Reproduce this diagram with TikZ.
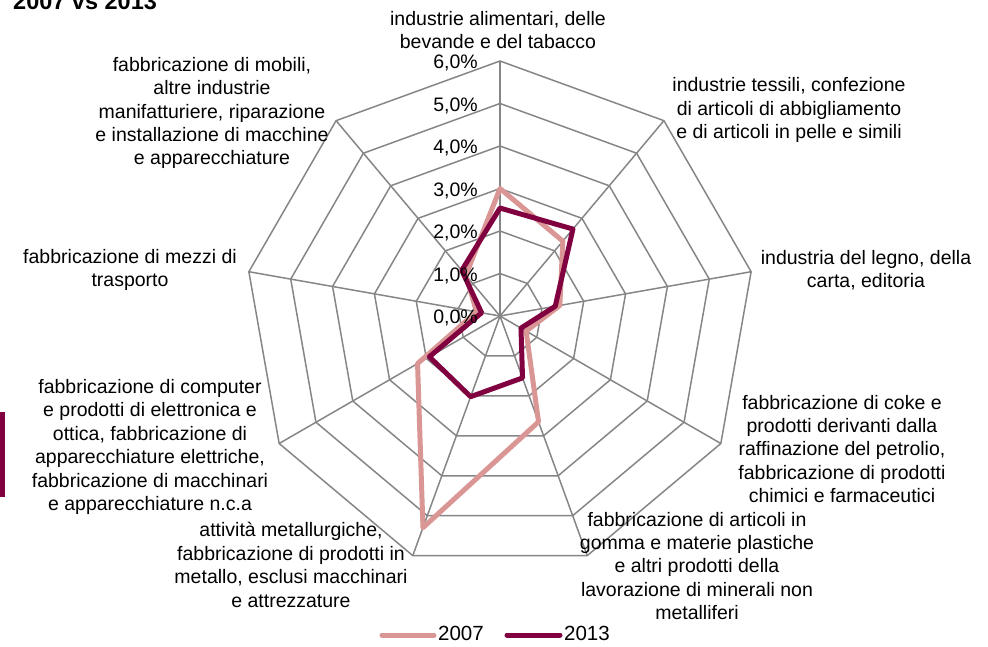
\documentclass[tikz,border=0pt]{standalone}
\usepackage{fontspec}
\setmainfont{Liberation Sans}
\definecolor{c2007}{RGB}{217,150,148}
\definecolor{c2013}{RGB}{128,0,64}
\definecolor{webgray}{RGB}{134,134,134}

\begin{document}
\begin{tikzpicture}
  [
    x=1pt, y=1pt,
    lbl/.style={align=center, inner sep=0pt,
      font=\fontsize{19.5}{23.4}\selectfont},
    tick/.style={anchor=east, inner sep=0pt,
      font=\fontsize{19.5}{23.4}\selectfont},
    webline/.style={draw=webgray, line width=1.5pt},
    l07/.style={draw=c2007, line width=5pt, line join=round},
    l13/.style={draw=c2013, line width=5pt, line join=round}
  ]
  \useasboundingbox (-500,-330) rectangle (488,316);

  \node (title) at (-487,306) [anchor=base west, inner sep=0pt,
    font=\bfseries\fontsize{23.5}{28}\selectfont] {2007 vs 2013};
  \fill[c2013] (-500,-96) rectangle (-495,-181);

  % radar web, 1 unit = 1%
  \begin{scope}[scale=42.5]
    \coordinate (o) at (0,0);
    \foreach \r in {1,...,6}
      \draw[webline] (90:\r) \foreach \a in {50,10,...,-230} { -- (\a:\r) } -- cycle;
    \foreach \a in {90,50,...,-230}
      \draw[webline] (o) -- (\a:6);

    \draw [l07] (90:3.0) -- (50:2.3) -- (10:1.43) -- (-30:0.71) -- (-70:2.65)
      -- (-110:5.3) -- (-150:2.24) -- (170:0.56) -- (130:1.25) -- cycle;
    \draw [l13] (90:2.54) -- (50:2.67) -- (10:1.32) -- (-30:0.57) -- (-70:1.55)
      -- (-110:2.02) -- (-150:1.92) -- (170:0.44) -- (130:1.4) -- cycle;
  \end{scope}

  \foreach \v in {0,...,6}
    \node (t\v) at (-22,{42.5*\v-2}) [tick] {\v,0\%};

  \node (a0) at (-2,286) [lbl] {industrie alimentari, delle\\bevande e del tabacco};
  \node (a1) at (289,206) [lbl] {industrie tessili, confezione\\di articoli di abbigliamento\\e di articoli in pelle e simili};
  \node (a2) at (366,46) [lbl] {industria del legno, della\\carta, editoria};
  \node (a3) at (342,-133) [lbl] {fabbricazione di coke e\\prodotti derivanti dalla\\raffinazione del petrolio,\\fabbricazione di prodotti\\chimici e farmaceutici};
  \node (a4) at (197,-250) [lbl] {fabbricazione di articoli in\\gomma e materie plastiche\\e altri prodotti della\\lavorazione di minerali non\\metalliferi};
  \node (a5) at (-209,-249) [lbl] {attività metallurgiche,\\fabbricazione di prodotti in\\metallo, esclusi macchinari\\e attrezzature};
  \node (a6) at (-350,-131) [lbl] {fabbricazione di computer\\e prodotti di elettronica e\\ottica, fabbricazione di\\apparecchiature elettriche,\\fabbricazione di macchinari\\e apparecchiature n.c.a};
  \node (a7) at (-370,46) [lbl] {fabbricazione di mezzi di\\trasporto};
  \node (a8) at (-288,203) [lbl] {fabbricazione di mobili,\\altre industrie\\manifatturiere, riparazione\\e installazione di macchine\\e apparecchiature};

  % legend
  \coordinate (k07) at (-118,-319);
  \coordinate (k13) at (7,-319);
  \node (n07) at (-62,-317) [lbl, anchor=west, font=\fontsize{20.5}{24}\selectfont] {2007};
  \node (n13) at (64,-317) [lbl, anchor=west, font=\fontsize{20.5}{24}\selectfont] {2013};
  \draw [l07, line cap=round] (k07) -- ([xshift=-4pt]n07.west |- k07);
  \draw [l13, line cap=round] (k13) -- ([xshift=-4pt]n13.west |- k13);
\end{tikzpicture}
\end{document}
